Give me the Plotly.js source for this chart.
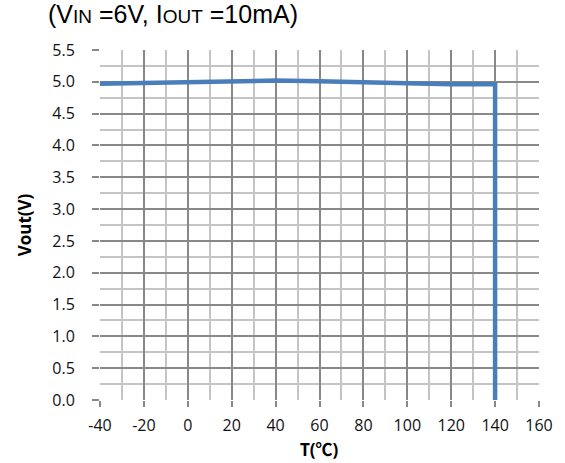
<!DOCTYPE html>
<html><head><meta charset="utf-8">
<script src="https://cdn.plot.ly/plotly-3.0.1.min.js"></script>
<style>html,body{margin:0;padding:0;background:#fff}#chart{width:565px;height:463px}</style>
</head><body><div id="chart"></div>
<script>
const temperature = [-40, -20, 0, 20, 40, 60, 80, 100, 120, 140, 140];
const vout = [4.97, 4.98, 5.00, 5.01, 5.02, 5.01, 4.99, 4.97, 4.96, 4.96, 0];
const xTicks = [-40, -20, 0, 20, 40, 60, 80, 100, 120, 140, 160];
const yTicks = [0, 0.5, 1, 1.5, 2, 2.5, 3, 3.5, 4, 4.5, 5, 5.5];

const tickFont = {family: 'Open Sans, Noto Sans, sans-serif', size: 16, color: '#111'};
Plotly.newPlot('chart', [{
  x: temperature, y: vout, type: 'scatter', mode: 'lines',
  line: {color: '#4a7ebb', width: 4.5}, hoverinfo: 'skip'
}], {
  width: 565, height: 463,
  margin: {l: 100, r: 26, t: 50, b: 63},
  paper_bgcolor: '#fff', plot_bgcolor: '#fff',
  showlegend: false,
  title: {text: '(V<span style="font-size:19px">IN</span> =6V, I<span style="font-size:19px">OUT</span> =10mA)',
    x: 48 / 565, xanchor: 'left', y: 1 - 5 / 463, yanchor: 'top',
    font: {family: 'Liberation Sans, Arial, sans-serif', size: 25, color: '#000'}},
  annotations: [{text: '<b>T(<span style="font-family:Noto Sans CJK SC">℃</span>)</b>',
    xref: 'paper', yref: 'paper', x: 0.5, y: -48 / 350, xanchor: 'center', yanchor: 'middle',
    showarrow: false, font: {family: 'Open Sans, Noto Sans, sans-serif', size: 17, color: '#000'}}],
  xaxis: {range: [-40, 160], tickvals: xTicks, ticktext: xTicks.map(String),
    showgrid: true, gridcolor: '#888', gridwidth: 2,
    minor: {dtick: 10, showgrid: true, gridcolor: '#c4c4c4', gridwidth: 2, ticks: ''},
    ticks: 'outside', ticklen: 6, tickwidth: 2, tickcolor: '#888', ticklabelstandoff: 5,
    zeroline: false, showline: false, tickfont: tickFont},
  yaxis: {range: [0, 5.5], tickvals: yTicks, ticktext: yTicks.map(v => v.toFixed(1)),
    showgrid: true, gridcolor: '#888', gridwidth: 2,
    minor: {dtick: 0.25, showgrid: true, gridcolor: '#c4c4c4', gridwidth: 2, ticks: ''},
    ticks: 'outside', ticklen: 7, tickwidth: 2, tickcolor: '#888', ticklabelstandoff: 14,
    zeroline: false, showline: false, tickfont: tickFont,
    title: {text: '<b>Vout(V)</b>', standoff: 16, font: {family: 'Open Sans, Noto Sans, sans-serif', size: 17, color: '#000'}}}
}, {staticPlot: true});
</script></body></html>
